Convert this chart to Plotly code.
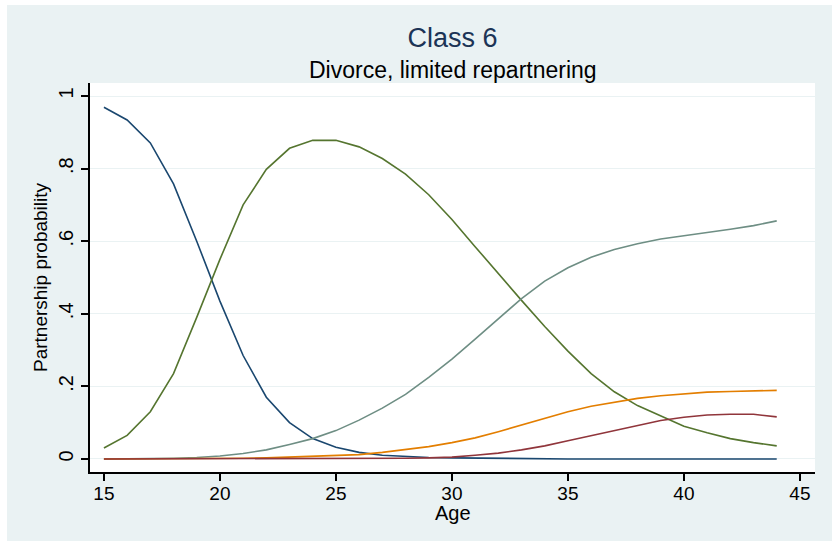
import plotly.graph_objects as go

ages = list(range(15, 45))

series_a = [0.969, 0.934, 0.871, 0.758, 0.600, 0.435, 0.285, 0.170, 0.100, 0.056,
            0.032, 0.018, 0.010, 0.006, 0.004, 0.003, 0.002, 0.002, 0.001, 0.001,
            0.000, 0.000, 0.000, 0.000, 0.000, 0.000, 0.000, 0.000, 0.000, 0.000]
series_b = [0.030, 0.065, 0.130, 0.235, 0.390, 0.550, 0.700, 0.798, 0.856, 0.878,
            0.878, 0.860, 0.828, 0.785, 0.728, 0.660, 0.585, 0.510, 0.437, 0.365,
            0.297, 0.235, 0.185, 0.147, 0.118, 0.090, 0.072, 0.056, 0.045, 0.036]
series_c = [0.000, 0.000, 0.001, 0.002, 0.004, 0.008, 0.015, 0.025, 0.040, 0.056,
            0.078, 0.107, 0.140, 0.178, 0.225, 0.275, 0.330, 0.387, 0.442, 0.490,
            0.527, 0.556, 0.577, 0.593, 0.606, 0.615, 0.623, 0.633, 0.643, 0.656]
series_d = [0.000, 0.000, 0.001, 0.001, 0.001, 0.002, 0.002, 0.003, 0.005, 0.007,
            0.009, 0.012, 0.018, 0.025, 0.034, 0.045, 0.058, 0.075, 0.093, 0.112,
            0.130, 0.145, 0.157, 0.167, 0.174, 0.179, 0.184, 0.186, 0.188, 0.189]
series_e = [0.000, 0.000, 0.000, 0.000, 0.000, 0.000, 0.000, 0.000, 0.001, 0.001,
            0.001, 0.002, 0.002, 0.002, 0.003, 0.005, 0.010, 0.016, 0.025, 0.036,
            0.050, 0.064, 0.078, 0.093, 0.106, 0.115, 0.121, 0.123, 0.123, 0.116]

series = [
    ("State 1", series_a, "#1A476F"),
    ("State 2", series_b, "#55752F"),
    ("State 3", series_c, "#6E8E84"),
    ("State 4", series_d, "#E37E00"),
    ("State 5", series_e, "#90353B"),
]

y_tickvals = [0, 0.2, 0.4, 0.6, 0.8, 1]
y_ticktext = ["0", ".2", ".4", ".6", ".8", "1"]
x_tickvals = [15, 20, 25, 30, 35, 40, 45]

FONT = "Liberation Sans, Arial, sans-serif"
BG = "#EAF2F3"

fig = go.Figure()
for name, vals, col in series:
    fig.add_trace(go.Scatter(x=ages, y=vals, mode="lines", name=name,
                             line=dict(color=col, width=1.6), showlegend=False))

W, H = 832, 541
L, R, T, B = 90, 17, 83, 69
pw, ph = W - L - R, H - T - B

def px_x(x):
    return (x - L) / pw

def px_y(y):
    return (H - B - y) / ph

fig.update_layout(
    width=W, height=H,
    margin=dict(l=L, r=R, t=T, b=B, pad=0),
    paper_bgcolor=BG, plot_bgcolor="white",
    font=dict(family=FONT, color="black", size=18),
    title=dict(text="Class 6", x=0.5 * (pw / W) + L / W, xanchor="center",
               y=1 - 38 / H, yanchor="middle", yref="container",
               font=dict(size=27, color="#1C3456", family=FONT)),
    xaxis=dict(range=[14.4, 45.65], tickvals=x_tickvals, ticks="outside",
               ticklen=7, tickwidth=1.5, tickcolor="black", showline=True,
               linecolor="black", linewidth=1.5, showgrid=False, zeroline=False,
               tickfont=dict(size=19), ticklabelstandoff=-4),
    yaxis=dict(range=[-0.036, 1.036], tickvals=y_tickvals, ticktext=y_ticktext,
               ticks="outside", ticklen=7, tickwidth=1.5, tickcolor="black",
               showline=True, linecolor="black", linewidth=1.5,
               showgrid=True, gridcolor=BG, gridwidth=1.2, zeroline=False,
               tickangle=-90, tickfont=dict(size=20),
               title=dict(text="Partnership probability", font=dict(size=19),
                          standoff=3)),
    annotations=[
        dict(text="Divorce, limited repartnering", xref="paper",
             yref="paper", x=0.5, y=px_y(70), xanchor="center",
             yanchor="middle", showarrow=False,
             font=dict(size=23, color="black", family=FONT)),
        dict(text="Age", xref="paper", yref="paper", x=0.5, y=px_y(513),
             xanchor="center", yanchor="middle", showarrow=False,
             font=dict(size=20, color="black", family=FONT)),
    ],
    shapes=[
        dict(type="rect", xref="paper", yref="paper", x0=px_x(0), x1=px_x(W),
             y0=px_y(5), y1=px_y(0), fillcolor="white", line=dict(width=0),
             layer="below"),
        dict(type="rect", xref="paper", yref="paper", x0=px_x(0), x1=px_x(7),
             y0=px_y(H), y1=px_y(0), fillcolor="white", line=dict(width=0),
             layer="below"),
    ],
)

fig.write_html(
    "out.html",
    config={"displayModeBar": False},
    post_script="document.body.style.margin='0px';"
                "document.body.style.background='" + BG + "';",
)
